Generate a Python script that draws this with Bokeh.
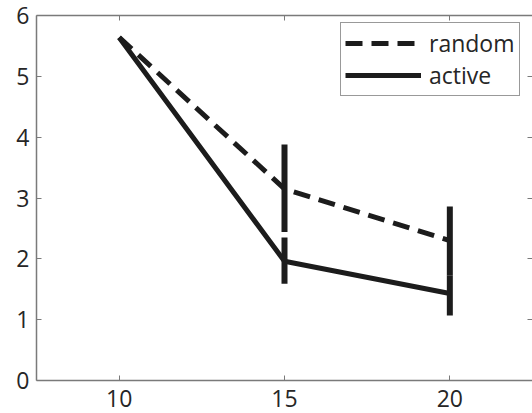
from bokeh.plotting import figure
from bokeh.models import LinearAxis, FixedTicker, Legend, LegendItem, CustomJSTickFormatter
from bokeh.embed import file_html
from bokeh.resources import INLINE

# data
x_vals = [10, 15, 20]
random_vals = [5.64, 3.15, 2.30]
active_vals = [5.64, 1.96, 1.43]
random_err_x = [15, 20]
random_err_lo = [2.44, 1.73]
random_err_hi = [3.88, 2.86]
active_err_x = [15, 20]
active_err_lo = [1.59, 1.07]
active_err_hi = [2.35, 1.73]
x_ticks = [10, 15, 20]
y_ticks = [0, 1, 2, 3, 4, 5, 6]

FONT = "Open Sans"
LINE_COLOR = "#1c1c1c"
AXIS_COLOR = "#7a7a7a"

p = figure(width=532, height=413, output_backend="svg", toolbar_location=None,
           x_range=(7.5, 22.5), y_range=(0, 6),
           min_border_left=36, min_border_right=0, min_border_top=15, min_border_bottom=33,
           x_axis_type=None, y_axis_type=None)
p.outline_line_color = None
p.outline_line_alpha = 0
p.xgrid.visible = False
p.ygrid.visible = False
p.background_fill_color = "white"
p.border_fill_color = "white"

def style_axis(ax, ticks, show_labels=True, show_line=True, standoff=7):
    ax.ticker = FixedTicker(ticks=ticks)
    ax.major_tick_in = 5
    ax.major_tick_out = 0
    ax.minor_tick_line_color = None
    ax.major_tick_line_color = AXIS_COLOR
    ax.axis_line_color = AXIS_COLOR if show_line else None
    ax.axis_line_width = 1.5
    if show_labels:
        ax.major_label_text_font = FONT
        ax.major_label_text_font_size = "23px"
        ax.major_label_text_color = "#262626"
        ax.major_label_standoff = standoff
    else:
        ax.formatter = CustomJSTickFormatter(code="return ''")
        ax.major_label_text_font_size = "1px"
        ax.major_label_standoff = 0

xb = LinearAxis(); style_axis(xb, x_ticks, standoff=9); p.add_layout(xb, "below")
yl = LinearAxis(); style_axis(yl, y_ticks, standoff=7); p.add_layout(yl, "left")
xt = LinearAxis(); style_axis(xt, x_ticks, show_labels=False); p.add_layout(xt, "above")
yr = LinearAxis(); style_axis(yr, y_ticks, show_labels=False, show_line=False); p.add_layout(yr, "right")

r_rand = p.line(x_vals, random_vals, line_color=LINE_COLOR, line_width=5, line_dash="17 9")
r_act = p.line(x_vals, active_vals, line_color=LINE_COLOR, line_width=5)

p.segment(x0=random_err_x, y0=random_err_lo, x1=random_err_x, y1=random_err_hi,
          line_color=LINE_COLOR, line_width=6)
p.segment(x0=active_err_x, y0=active_err_lo, x1=active_err_x, y1=active_err_hi,
          line_color=LINE_COLOR, line_width=6)

legend = Legend(items=[LegendItem(label="random", renderers=[r_rand]),
                       LegendItem(label="active", renderers=[r_act])],
                location=(304, 284), margin=0, padding=4, spacing=0,
                glyph_width=76, glyph_height=20, label_height=20, label_standoff=8,
                label_text_font=FONT, label_text_font_size="23px", label_text_color="#262626",
                border_line_color="#333333", border_line_width=1.2,
                background_fill_color="white", background_fill_alpha=1)
p.add_layout(legend, "center")

open("out.html", "w").write(file_html(p, INLINE))
